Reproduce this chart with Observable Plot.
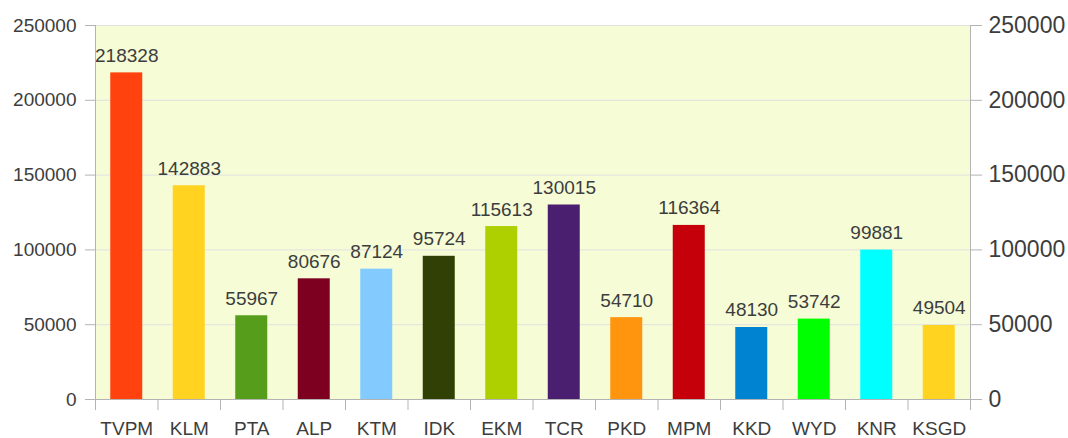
<!DOCTYPE html>
<html>
<head>
<meta charset="utf-8">
<script src="https://cdn.jsdelivr.net/npm/d3@7"></script>
<script src="https://cdn.jsdelivr.net/npm/@observablehq/plot@0.6"></script>
<style>
  html, body { margin: 0; padding: 0; background: #ffffff; }
  #chart { width: 1068px; height: 438px; }
</style>
</head>
<body>
<div id="chart"></div>
<script>
const districts = ["TVPM", "KLM", "PTA", "ALP", "KTM", "IDK", "EKM", "TCR", "PKD", "MPM", "KKD", "WYD", "KNR", "KSGD"];
const counts = [218328, 142883, 55967, 80676, 87124, 95724, 115613, 130015, 54710, 116364, 48130, 53742, 99881, 49504];
const barColors = ["#ff420e", "#ffd320", "#579d1c", "#7e0021", "#83caff", "#314004", "#aecf00", "#4b1f6f", "#ff950e", "#c5000b", "#0084d1", "#00ff00", "#00ffff", "#ffd320"];
const yTicks = [0, 50000, 100000, 150000, 200000, 250000];

const data = districts.map((d, i) => ({district: d, count: counts[i], color: barColors[i]}));

const W = 1068, H = 438;
const mL = 95, mR = 98, mT = 25, mB = 39;
const halfStep = (W - mL - mR) / districts.length / 2;

const axisColor = "#b3b3b3";
const textColor = "#3d3d3d";

const chart = Plot.plot({
  width: W,
  height: H,
  marginLeft: mL,
  marginRight: mR,
  marginTop: mT,
  marginBottom: mB,
  style: {background: "transparent", fontFamily: "'Liberation Sans', Arial, sans-serif", color: textColor},
  x: {domain: districts, paddingInner: 0.488, paddingOuter: 0.244, round: false},
  y: {domain: [0, 250000]},
  color: {type: "identity"},
  marks: [
    Plot.frame({fill: "#f5fcd6", stroke: null}),
    Plot.gridY(yTicks, {stroke: "#e2e2e2", strokeOpacity: 1}),
    Plot.barY(data, {x: "district", y: "count", fill: "color"}),
    Plot.text(data, {x: "district", y: "count", text: d => String(d.count), lineAnchor: "bottom", dy: -11, fontSize: 19, fill: textColor}),
    Plot.ruleY([0], {stroke: axisColor}),
    Plot.ruleX([districts[0]], {y1: 0, y2: 250000, dx: -halfStep, stroke: axisColor}),
    Plot.ruleX([districts[districts.length - 1]], {y1: 0, y2: 250000, dx: halfStep, stroke: axisColor}),
    Plot.axisY(yTicks, {anchor: "left", tickSize: 10, tickPadding: 9, fontSize: 19, tickFormat: d => String(d), stroke: axisColor, fill: textColor, label: null}),
    Plot.axisY(yTicks, {anchor: "right", tickSize: 11, tickPadding: 7, fontSize: 23, tickFormat: d => String(d), stroke: axisColor, fill: textColor, label: null}),
    Plot.axisX(districts, {tickSize: 11, dx: -halfStep, tickFormat: () => "", stroke: axisColor, label: null}),
    Plot.axisX([districts[districts.length - 1]], {tickSize: 11, dx: halfStep, tickFormat: () => "", stroke: axisColor, label: null}),
    Plot.axisX(districts, {tickSize: 0, tickPadding: 22, fontSize: 19, fill: textColor, label: null})
  ]
});

document.getElementById("chart").appendChild(chart);
</script>
</body>
</html>
